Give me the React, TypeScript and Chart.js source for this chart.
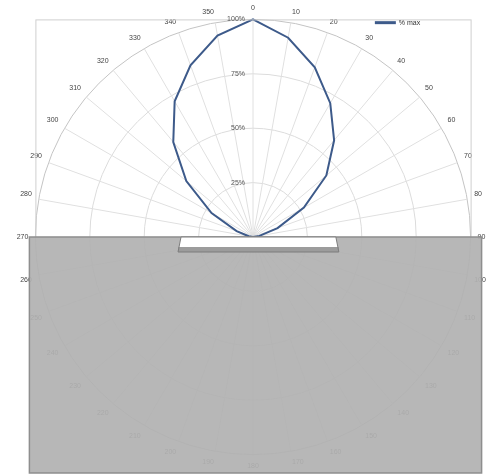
import React, { useEffect, useRef } from "react";
import { Chart, registerables } from "chart.js";

Chart.register(...registerables);

const angleLabels: string[] = [
  "0", "10", "20", "30", "40", "50", "60", "70", "80", "90",
  "100", "110", "120", "130", "140", "150", "160", "170", "180", "190",
  "200", "210", "220", "230", "240", "250", "260", "270", "280", "290",
  "300", "310", "320", "330", "340", "350",
];

const seriesLabel = "% max";

const pctMax: number[] = [
  100, 93, 83, 71, 58, 44, 27, 12, 3, 0,
  0, 0, 0, 0, 0, 0, 0, 0, 0, 0,
  0, 0, 0, 0, 0, 0, 0, 0, 2, 8,
  22, 40, 57, 72, 84, 94,
];

const tickValues: number[] = [0, 25, 50, 75, 100];

const lineColor = "#3d5a8a";

const overlayPlugin = {
  id: "overlay",
  afterDraw(chart: any) {
    const ctx = chart.ctx as CanvasRenderingContext2D;
    const s = chart.scales.r;
    const xC = s.xCenter;
    const yC = s.yCenter;
    const R = s.drawingArea;
    ctx.save();
    // frame around the upper half
    ctx.strokeStyle = "#cfcfcf";
    ctx.lineWidth = 1;
    ctx.strokeRect(xC - R + 0.5, yC - R + 0.5, 2 * R, R);

    // tick labels (left of the vertical axis)
    ctx.fillStyle = "#555";
    ctx.font = "7px 'Liberation Sans', Arial, sans-serif";
    ctx.textAlign = "right";
    ctx.textBaseline = "middle";
    tickValues.forEach((v) => {
      if (v === 0) return;
      const d = s.getDistanceFromCenterForValue(v);
      ctx.fillText(`${v}%`, xC - 8, yC - d);
    });

    // grey cover over lower half
    ctx.fillStyle = "rgba(178,177,177,0.93)";
    ctx.strokeStyle = "#8e8e8e";
    ctx.lineWidth = 1.5;
    const gl = xC - R - 6;
    const gr = xC + R + 11;
    const gb = chart.chartArea.bottom + 2;
    ctx.fillRect(gl, yC, gr - gl, gb - yC);
    ctx.strokeRect(gl, yC, gr - gl, gb - yC);

    // luminaire shape
    const lx0 = xC - 0.34 * R;
    const lx1 = xC + 0.39 * R;
    const h = 15;
    ctx.beginPath();
    ctx.moveTo(lx0 + 2, yC);
    ctx.lineTo(lx1 - 2, yC);
    ctx.lineTo(lx1 + 1, yC + h);
    ctx.lineTo(lx0 - 1, yC + h);
    ctx.closePath();
    ctx.fillStyle = "#ffffff";
    ctx.fill();
    ctx.fillStyle = "#9c9c9c";
    ctx.fillRect(lx0 - 1, yC + h - 5, lx1 - lx0 + 2, 5);
    ctx.strokeStyle = "#7d7d7d";
    ctx.lineWidth = 1;
    ctx.stroke();

    // legend
    const ly = yC - 0.985 * R;
    const lxs = xC + 0.56 * R;
    ctx.strokeStyle = lineColor;
    ctx.lineWidth = 3;
    ctx.beginPath();
    ctx.moveTo(lxs, ly);
    ctx.lineTo(lxs + 21, ly);
    ctx.stroke();
    ctx.fillStyle = "#333";
    ctx.font = "7px 'Liberation Sans', Arial, sans-serif";
    ctx.textAlign = "left";
    ctx.textBaseline = "middle";
    ctx.fillText(seriesLabel, lxs + 24, ly);
    ctx.restore();
  },
};

export default function App() {
  const ref = useRef<HTMLCanvasElement | null>(null);
  useEffect(() => {
    if (!ref.current) return;
    const chart = new Chart(ref.current, {
      type: "radar",
      data: {
        labels: angleLabels,
        datasets: [
          {
            label: seriesLabel,
            data: pctMax,
            borderColor: lineColor,
            backgroundColor: "transparent",
            borderWidth: 2,
            pointRadius: 0,
            fill: false,
          },
        ],
      },
      options: {
        animation: false,
        responsive: false,
        layout: { padding: { left: 14, right: 0, top: 4, bottom: 5 } },
        plugins: { legend: { display: false }, tooltip: { enabled: false } },
        scales: {
          r: {
            min: 0,
            max: 100,
            ticks: { stepSize: 25, display: false },
            grid: {
              circular: true,
              color: (c: any) => (c.index === 4 ? "#c4c4c4" : "#dcdcdc"),
            },
            angleLines: { color: "#e0e0e0" },
            pointLabels: {
              color: "#444",
              padding: 7,
              font: { size: 7, family: "'Liberation Sans', Arial, sans-serif" },
            },
          },
        },
      },
      plugins: [overlayPlugin],
    });
    return () => chart.destroy();
  }, []);
  return (
    <div style={{ position: "absolute", left: 0, top: 0, width: 490, height: 476, background: "#fff" }}>
      <canvas ref={ref} width={490} height={476} style={{ display: "block" }} />
    </div>
  );
}
